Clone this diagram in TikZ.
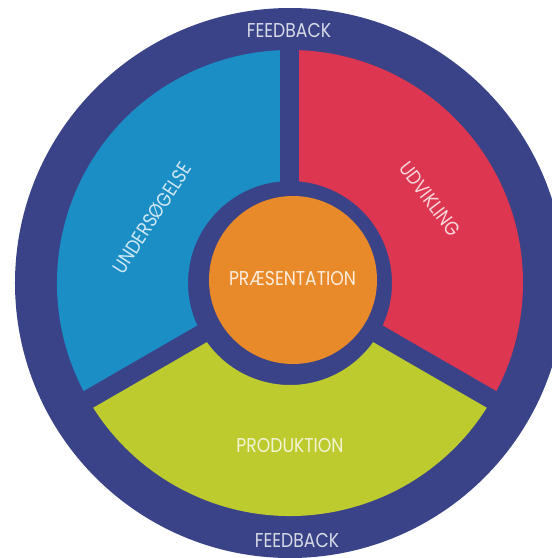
\documentclass[tikz,border=0pt]{standalone}
\usepackage{fontspec}
\setmainfont{Poppins}[FakeStretch=0.86]

\definecolor{ringnavy}{RGB}{58,67,135}
\definecolor{segblue}{RGB}{27,142,198}
\definecolor{segred}{RGB}{221,54,81}
\definecolor{seggreen}{RGB}{189,203,47}
\definecolor{midorange}{RGB}{233,138,42}

\tikzset{
  lbl/.style={font=\fontsize{20}{20}\selectfont, inner sep=0pt},
}

\begin{document}
\begin{tikzpicture}[x=1pt, y=1pt]
    \useasboundingbox (-290,-275) rectangle (262,283);
    \clip (-290,-275) rectangle (262,283);
    \fill[white] (-290,-275) rectangle (262,283);
    \fill[ringnavy] (0,0) circle [radius=275];
    \fill[segblue] (90:102) arc [start angle=90, end angle=210, radius=102] -- (210:233) arc [start angle=210, end angle=90, radius=233] -- cycle;
    \fill[seggreen] (210:102) arc [start angle=210, end angle=330, radius=102] -- (330:233) arc [start angle=330, end angle=210, radius=233] -- cycle;
    \fill[segred] (-30:102) arc [start angle=-30, end angle=90, radius=102] -- (90:233) arc [start angle=90, end angle=-30, radius=233] -- cycle;
    \foreach \a in {90,210,330}
      \draw[ringnavy, line width=19pt] (0,0) -- (\a:240);
    \fill[midorange] (3,3) circle [radius=84];
    \node[lbl, text=white!80!ringnavy] (fbtop) at (-1,252.5) {FEEDBACK};
    \node[lbl, text=white!80!ringnavy] (fbbottom) at (7,-257.5) {FEEDBACK};
    \node[lbl, text=white!85!midorange] (praes) at (2.5,4) {PRÆSENTATION};
    \node[lbl, text=white!80!seggreen] (prod) at (0,-163) {PRODUKTION};
    \node[lbl, text=white!80!segblue, rotate=57] (unders) at (-138,65) {UNDERSØGELSE};
    \node[lbl, text=white!80!segred, rotate=-53] (udvik) at (140,84) {UDVIKLING};
\end{tikzpicture}
\end{document}
